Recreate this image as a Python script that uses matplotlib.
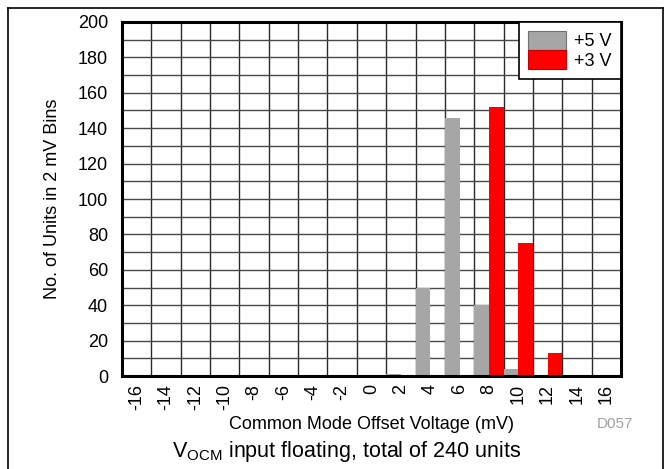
import matplotlib
matplotlib.use("Agg")
import matplotlib.pyplot as plt
from matplotlib.lines import Line2D
from matplotlib.patches import Patch
import numpy as np

plt.rcParams['font.family'] = ['Liberation Sans', 'DejaVu Sans']
plt.rcParams['mathtext.fontset'] = 'custom'
plt.rcParams['mathtext.rm'] = 'Liberation Sans'
plt.rcParams['mathtext.it'] = 'Liberation Sans'

categories = ['-16', '-14', '-12', '-10', '-8', '-6', '-4', '-2', '0',
              '2', '4', '6', '8', '10', '12', '14', '16']
plus5v = [0, 0, 0, 0, 0, 0, 0, 0, 0, 1, 50, 146, 40, 4, 0, 0, 0]
plus3v = [0, 0, 0, 0, 0, 0, 0, 0, 0, 0, 0, 0, 152, 75, 13, 0, 0]
series_names = ['+5 V', '+3 V']
colors = ['#a6a6a6', '#ff0000']

W, H = 671, 469
fig = plt.figure(figsize=(W / 100, H / 100), dpi=100)
ax = fig.add_axes([122 / W, 1 - 376 / H, 499 / W, 354 / H])

x = np.arange(len(categories))
bw = 0.5
ax.bar(x - bw / 2, plus5v, width=bw, color=colors[0], zorder=3)
ax.bar(x + bw / 2, plus3v, width=bw, color=colors[1], zorder=3)

ax.set_xlim(-0.5, len(categories) - 0.5)
ax.set_ylim(0, 200)
ax.set_xticks(x)
ax.set_xticklabels(categories, rotation=90, fontsize=13)
ax.set_xticks(np.arange(len(categories) - 1) + 0.5, minor=True)
ax.set_yticks(np.arange(0, 201, 20))
ax.set_yticks(np.arange(0, 201, 10), minor=True)
ax.tick_params(axis='both', which='both', length=0)
ax.tick_params(axis='y', labelsize=13, pad=10)
ax.tick_params(axis='x', pad=6)
ax.grid(True, which='minor', axis='x', color='#2a2a2a', linewidth=1.0, zorder=0)
ax.grid(True, which='both', axis='y', color='#484848', linewidth=1.0, zorder=0)
ax.set_axisbelow(True)
for s in ax.spines.values():
    s.set_linewidth(2.2)
    s.set_color('black')
    s.set_zorder(5)

ax.set_ylabel('No. of Units in 2 mV Bins', fontsize=13, labelpad=12)
ax.set_xlabel('Common Mode Offset Voltage (mV)', fontsize=13, labelpad=4)

handles = [Patch(facecolor=colors[0], edgecolor='#707070', linewidth=0.8),
           Patch(facecolor=colors[1], edgecolor='#c00000', linewidth=0.8)]
leg = ax.legend(handles, series_names, loc='upper right', fontsize=13,
                frameon=True, fancybox=False, edgecolor='black',
                framealpha=1, borderaxespad=0, handlelength=2.15,
                handleheight=1.2, labelspacing=0.0, handletextpad=0.45,
                borderpad=0.5)
leg.get_frame().set_linewidth(1.2)
leg.set_zorder(6)

fig.text(615 / W, 1 - 424 / H, 'D057', fontsize=11, color='#a0a0a0',
         ha='center', va='center')
fig.text(347 / W, 1 - 451 / H,
         r'V$_{\mathrm{OCM}}$ input floating, total of 240 units',
         fontsize=15.5, ha='center', va='center')

# figure frame lines
fig.add_artist(Line2D([8 / W, 8 / W], [0, 1 - 8 / H], color='black', linewidth=1.2,
                      transform=fig.transFigure))
fig.add_artist(Line2D([663 / W, 663 / W], [0, 1 - 8 / H], color='black', linewidth=1.2,
                      transform=fig.transFigure))
fig.add_artist(Line2D([8 / W, 663 / W], [1 - 8 / H, 1 - 8 / H], color='black',
                      linewidth=1.2, transform=fig.transFigure))

fig.savefig('out.png', dpi=100)
